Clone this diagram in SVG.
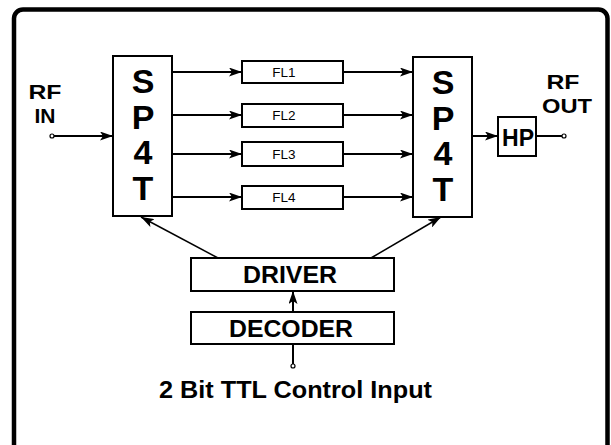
<svg xmlns="http://www.w3.org/2000/svg" width="611" height="445" viewBox="0 0 611 445">
<defs>
<marker id="ah" markerWidth="13" markerHeight="9" refX="13" refY="4.5" orient="auto" markerUnits="userSpaceOnUse">
<path d="M0,0 L13,4.5 L0,9 L3,4.5 z" fill="#000"/>
</marker>
</defs>
<style>
.box{fill:#fff;stroke:#000;stroke-width:2}
.ln{stroke:#000;stroke-width:2;fill:none}
.thin{stroke:#000;stroke-width:1.5;fill:none}
.b{font-family:"Liberation Sans",Arial,sans-serif;font-weight:bold;fill:#000}
.r{font-family:"Liberation Sans",Arial,sans-serif;fill:#000}
.big{font-size:34px;text-anchor:middle}
.mid{font-size:24px;text-anchor:middle}
.lab{font-size:21px;text-anchor:middle}
.fl{font-size:13.5px;text-anchor:middle}
.term{fill:#fff;stroke:#000;stroke-width:1.2}
</style>
<rect x="14" y="9.5" width="593.5" height="450" rx="9" ry="9" fill="#fff" stroke="#000" stroke-width="4.5"/>
<g id="connectors">
<line class="ln" x1="54" y1="136" x2="113" y2="136" marker-end="url(#ah)"/>
<line class="ln" x1="172" y1="72" x2="242" y2="72" marker-end="url(#ah)"/>
<line class="ln" x1="172" y1="115" x2="242" y2="115" marker-end="url(#ah)"/>
<line class="ln" x1="172" y1="154" x2="242" y2="154" marker-end="url(#ah)"/>
<line class="ln" x1="172" y1="197" x2="242" y2="197" marker-end="url(#ah)"/>
<line class="ln" x1="343" y1="72" x2="413" y2="72" marker-end="url(#ah)"/>
<line class="ln" x1="343" y1="115" x2="413" y2="115" marker-end="url(#ah)"/>
<line class="ln" x1="343" y1="154" x2="413" y2="154" marker-end="url(#ah)"/>
<line class="ln" x1="343" y1="197" x2="413" y2="197" marker-end="url(#ah)"/>
<line class="ln" x1="472" y1="136" x2="498" y2="136" marker-end="url(#ah)"/>
<line class="ln" x1="536" y1="136" x2="562" y2="136"/>
<line class="thin" x1="218" y1="258" x2="141" y2="217" marker-end="url(#ah)"/>
<line class="thin" x1="371" y1="258" x2="441" y2="217" marker-end="url(#ah)"/>
<line class="ln" x1="293" y1="312" x2="293" y2="291" marker-end="url(#ah)"/>
<line class="ln" x1="293" y1="344" x2="293" y2="364"/>
<circle class="term" cx="52" cy="136" r="2"/>
<circle class="term" cx="564" cy="136" r="2"/>
<circle class="term" cx="293" cy="366" r="2"/>
</g>
<g id="rf-in">
<text class="b lab" x="45" y="99" textLength="33" lengthAdjust="spacingAndGlyphs">RF</text>
<text class="b lab" x="45" y="123">IN</text>
</g>
<g id="rf-out">
<text class="b lab" x="563" y="89" textLength="33" lengthAdjust="spacingAndGlyphs">RF</text>
<text class="b lab" x="567" y="113" textLength="50" lengthAdjust="spacingAndGlyphs">OUT</text>
</g>
<g id="sp4t-in">
<rect class="box" x="113" y="56" width="59" height="160"/>
<text class="b big" x="143" y="93">S</text>
<text class="b big" x="143" y="129">P</text>
<text class="b big" x="143" y="164">4</text>
<text class="b big" x="143" y="200">T</text>
</g>
<g id="sp4t-out">
<rect class="box" x="413" y="57" width="59" height="160"/>
<text class="b big" x="443" y="94">S</text>
<text class="b big" x="443" y="130">P</text>
<text class="b big" x="443" y="165">4</text>
<text class="b big" x="443" y="201">T</text>
</g>
<g id="fl1"><rect class="box" x="242" y="61" width="101" height="22"/><text class="r fl" x="284" y="77">FL1</text></g>
<g id="fl2"><rect class="box" x="242" y="104" width="101" height="23"/><text class="r fl" x="284" y="120">FL2</text></g>
<g id="fl3"><rect class="box" x="242" y="142" width="101" height="24"/><text class="r fl" x="284" y="159">FL3</text></g>
<g id="fl4"><rect class="box" x="242" y="186" width="101" height="23"/><text class="r fl" x="284" y="202">FL4</text></g>
<g id="hp"><rect class="box" x="498" y="117" width="38" height="39"/><text class="b mid" x="518" y="146" textLength="32" lengthAdjust="spacingAndGlyphs">HP</text></g>
<g id="driver"><rect class="box" x="191" y="258" width="203" height="33"/><text class="b mid" x="290" y="283" textLength="94" lengthAdjust="spacingAndGlyphs">DRIVER</text></g>
<g id="decoder"><rect class="box" x="191" y="312" width="203" height="32"/><text class="b mid" x="291" y="337" textLength="124" lengthAdjust="spacingAndGlyphs">DECODER</text></g>
<g id="control"><text class="b mid" x="295.5" y="398" textLength="273" lengthAdjust="spacingAndGlyphs">2 Bit TTL Control Input</text></g>
</svg>
